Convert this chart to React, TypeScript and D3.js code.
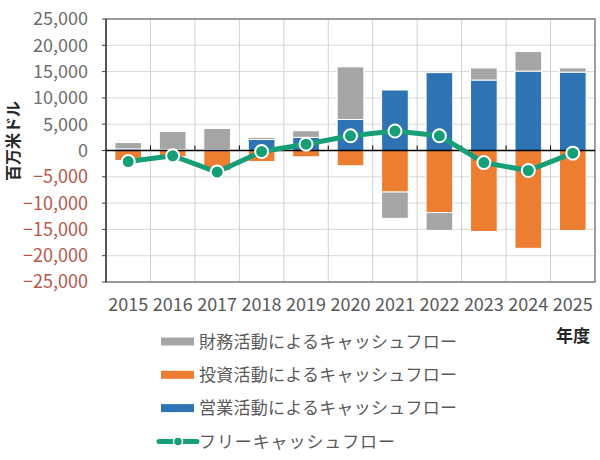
import React from "react";
import * as d3 from "d3";

const years = ["2015", "2016", "2017", "2018", "2019", "2020", "2021", "2022", "2023", "2024", "2025"];
// 百万米ドル
const operating = [300, 200, 100, 2100, 2500, 5900, 11500, 14800, 13400, 15100, 14900];
const investing = [-1900, -1200, -3800, -2100, -1200, -2900, -7900, -11800, -15400, -18600, -15200];
const financing = [1200, 3400, 4100, 400, 1250, 10000, -5000, -3400, 2300, 3700, 800];
const freeCash = [-2100, -1000, -4100, -200, 1200, 2800, 3700, 2800, -2300, -3800, -500];
const yTicks = [-25000, -20000, -15000, -10000, -5000, 0, 5000, 10000, 15000, 20000, 25000];

const seriesKeys = ["operating", "investing", "financing"];
const seriesColor: Record<string, string> = {
  operating: "#2e74b5",
  investing: "#ed7d31",
  financing: "#a5a5a5",
};
const legendItems = [
  { key: "financing", label: "財務活動によるキャッシュフロー" },
  { key: "investing", label: "投資活動によるキャッシュフロー" },
  { key: "operating", label: "営業活動によるキャッシュフロー" },
];
const lineLabel = "フリーキャッシュフロー";
const lineColor = "#169f77";

const W = 600,
  H = 460;
const plot = { left: 106, right: 595, top: 19, bottom: 282 };
const font = "'Noto Sans CJK JP', 'Noto Sans', sans-serif";

export default function App() {
  const x = d3
    .scaleBand<string>()
    .domain(years)
    .range([plot.left, plot.right])
    .paddingInner(0.4)
    .paddingOuter(0.2);
  const y = d3.scaleLinear().domain([-25000, 25000]).range([plot.bottom, plot.top]);
  const step = x.step();
  const bandStart = (i: number) => plot.left + i * step;

  const rows = years.map((yr, i) => ({
    year: yr,
    operating: operating[i],
    investing: investing[i],
    financing: financing[i],
  }));
  const stacked = d3
    .stack<any>()
    .keys(seriesKeys)
    .offset(d3.stackOffsetDiverging)(rows);

  const line = d3
    .line<number>()
    .x((_, i) => (x(years[i]) as number) + x.bandwidth() / 2)
    .y((d) => y(d));

  return (
    <div style={{ position: "absolute", left: 0, top: 0 }}>
      <svg width={W} height={H} style={{ background: "#fff", fontFamily: font }}>
        {/* grid */}
        {yTicks.map((t) => (
          <line key={"h" + t} x1={plot.left} x2={plot.right} y1={y(t)} y2={y(t)} stroke="#d9d9d9" strokeWidth={1} />
        ))}
        {years.map((yr, i) =>
          i === 0 ? null : (
            <line key={"v" + yr} x1={bandStart(i)} x2={bandStart(i)} y1={plot.top} y2={plot.bottom} stroke="#d0d0d0" strokeWidth={1} />
          )
        )}
        <rect
          x={plot.left}
          y={plot.top}
          width={plot.right - plot.left}
          height={plot.bottom - plot.top}
          fill="none"
          stroke="#7f7f7f"
          strokeWidth={1.5}
        />
        <line x1={plot.left} x2={plot.left} y1={plot.top} y2={plot.bottom} stroke="#404040" strokeWidth={1.5} />

        {/* left ticks and labels */}
        {yTicks.map((t) => (
          <g key={"t" + t}>
            <line x1={plot.left - 4} x2={plot.left} y1={y(t)} y2={y(t)} stroke="#404040" strokeWidth={1} />
            <text
              x={plot.left - 18}
              y={y(t)}
              dy="0.36em"
              textAnchor="end"
              fontSize={18}
              fill={t < 0 ? "#b9574c" : "#6e6e6e"}
            >
              {d3.format(",")(t)}
            </text>
          </g>
        ))}

        {/* bars */}
        {stacked.map((s) => (
          <g key={s.key} fill={seriesColor[s.key]}>
            {s.map((d, i) => {
              const y0 = y(d[0]),
                y1 = y(d[1]);
              return (
                <rect
                  key={i}
                  x={x(years[i])}
                  width={x.bandwidth()}
                  y={Math.min(y0, y1)}
                  height={Math.abs(y1 - y0)}
                  stroke="#fff"
                  strokeWidth={1}
                />
              );
            })}
          </g>
        ))}

        {/* zero axis */}
        <line x1={plot.left} x2={plot.right} y1={y(0)} y2={y(0)} stroke="#000" strokeWidth={1.5} />
        {years.map((yr, i) =>
          i === 0 ? null : (
            <line key={"z" + yr} x1={bandStart(i)} x2={bandStart(i)} y1={y(0) - 5} y2={y(0)} stroke="#000" strokeWidth={1} />
          )
        )}

        {/* free cash flow */}
        <path d={line(freeCash) || ""} fill="none" stroke={lineColor} strokeWidth={5} strokeLinejoin="round" />
        {freeCash.map((v, i) => (
          <circle
            key={"c" + i}
            cx={(x(years[i]) as number) + x.bandwidth() / 2}
            cy={y(v)}
            r={6.5}
            fill={lineColor}
            stroke="#fff"
            strokeWidth={2}
          />
        ))}

        {/* x labels */}
        {years.map((yr) => (
          <text
            key={"x" + yr}
            x={(x(yr) as number) + x.bandwidth() / 2}
            y={305}
            dy="0.36em"
            textAnchor="middle"
            fontSize={18}
            fill="#595959"
          >
            {yr}
          </text>
        ))}

        {/* axis titles */}
        <text
          transform={`translate(13,141) rotate(-90)`}
          textAnchor="middle"
          dy="0.36em"
          fontSize={16}
          fontWeight="bold"
          fill="#262626"
        >
          百万米ドル
        </text>
        <text x={590} y={336} dy="0.36em" textAnchor="end" fontSize={17} fontWeight="bold" fill="#262626">
          年度
        </text>

        {/* legend */}
        {legendItems.map((it, i) => {
          const cy = 341.5 + i * 33.3;
          return (
            <g key={it.key}>
              <rect x={161} y={cy - 4} width={33} height={8} fill={seriesColor[it.key]} />
              <text x={199} y={cy} dy="0.36em" fontSize={17} fill="#595959" textLength={258} lengthAdjust="spacing">
                {it.label}
              </text>
            </g>
          );
        })}
        <g>
          <line x1={159} x2={197} y1={441.5} y2={441.5} stroke={lineColor} strokeWidth={5} strokeLinecap="round" />
          <circle cx={178} cy={441.5} r={4.5} fill={lineColor} stroke="#fff" strokeWidth={1.5} />
          <text x={199} y={441.5} dy="0.36em" fontSize={17} fill="#595959" textLength={196} lengthAdjust="spacing">
            {lineLabel}
          </text>
        </g>
      </svg>
    </div>
  );
}
